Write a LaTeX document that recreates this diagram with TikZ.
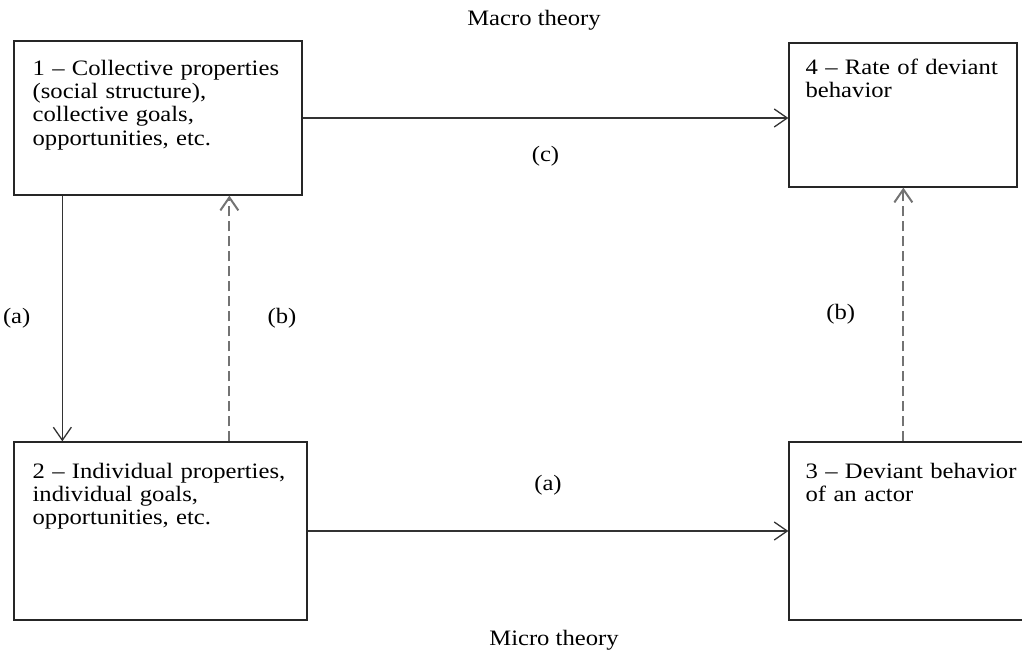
\documentclass[tikz,border=0pt]{standalone}
\usepackage{fontspec}
\setmainfont{Liberation Serif}[FakeStretch=1.12]
\usetikzlibrary{arrows.meta,positioning}

\begin{document}
\begin{tikzpicture}[x=1pt,y=-1pt,>={Straight Barb[length=13pt,width=18pt]},semithick,
  font=\fontsize{22}{23.3}\selectfont]
  \tikzstyle{every box}=[draw=black!85,line width=1.3pt,rectangle,inner sep=0pt]
  \tikzstyle{box text}=[anchor=base west,text width=280pt,align=left,inner sep=0pt]
  \tikzstyle{link}=[->,draw=black!80,line width=1.3pt]
  \tikzstyle{feedback}=[->,draw=black!55,line width=2pt,dash pattern=on 10pt off 5pt]
\useasboundingbox (0,0) rectangle (1022,655);
\node[every box,minimum width=288pt,minimum height=154pt] (B1) at (158,118) {};
\node[every box,minimum width=228pt,minimum height=144pt] (B4) at (903,115) {};
\node[every box,minimum width=293pt,minimum height=178pt] (B2) at (160.5,531) {};
\node[every box,minimum width=236pt,minimum height=178pt] (B3) at (907,531) {};
\node[box text] (T1) at ([xshift=19pt,yshift=-35pt]B1.north west)
  {1 -- Collective properties\\(social structure),\\collective goals,\\opportunities, etc.};
\node[box text] (T4) at ([xshift=17pt,yshift=-32pt]B4.north west)
  {4 -- Rate of deviant\\behavior};
\node[box text] (T2) at ([xshift=19pt,yshift=-37pt]B2.north west)
  {2 -- Individual properties,\\individual goals,\\opportunities, etc.};
\node[box text] (T3) at ([xshift=17pt,yshift=-37pt]B3.north west)
  {3 -- Deviant behavior\\of an actor};
\node (macro) at (534,20) {Macro theory};
\node (micro) at (554,640) {Micro theory};
\path
(B1.east) edge[link] node[below=24pt] (c) {(c)} (B1 -| B4.west)
(B2.east) edge[link] node[above=32pt] (a2) {(a)} (B2 -| B3.west)
([xshift=49pt]B1.south west) edge[link] node[left=28pt] (a1) {(a)} ([xshift=49pt]B2.north west)
([xshift=216pt]B2.north west) edge[feedback] node[right=34pt] (b1) {(b)} ([xshift=216pt]B1.south west)
([xshift=115pt]B3.north west) edge[feedback] node[left=44pt] (b2) {(b)} ([xshift=115pt]B4.south west);
\end{tikzpicture}
\end{document}
